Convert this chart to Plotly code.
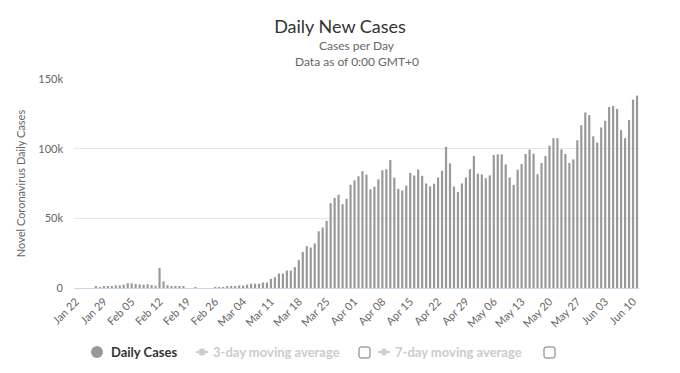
import plotly.graph_objects as go
import pandas as pd

# ---- data ----
start_date = "2020-01-22"
end_date = "2020-06-11"

jan_cases = [0, 0, 0, 0, 0, 1200, 500, 1200, 1200, 1200]
feb_cases = [1900, 1900, 2400, 3400, 3400, 2900, 2600, 2400, 2700, 2100, 1600, 14500,
             4800, 2000, 1300, 1300, 1300, 1300, 0, 0, 600, 0, 0, 0, 0, 700, 700, 700, 1300]
mar_cases = [1200, 1200, 1800, 1700, 2400, 3100, 3100, 3100, 3900, 3900, 6500, 7700,
             10400, 10400, 12500, 12500, 15000, 20000, 25800, 30000, 29000, 32000,
             40700, 43400, 48200, 60900, 64700, 66900, 60100, 64000, 74100]
apr_cases = [77300, 80200, 83800, 81400, 70800, 72700, 78000, 84500, 85200, 91800,
             79200, 71200, 70000, 73400, 82600, 80700, 85000, 80500, 75000, 73000,
             74800, 79300, 84100, 101400, 89400, 72800, 69000, 75000, 79300, 85300]
may_cases = [94700, 82000, 81500, 78800, 80800, 95400, 95900, 95900, 88700, 79300,
             74000, 84900, 89000, 96200, 99300, 96400, 81700, 89700, 94700, 102200,
             107500, 107500, 99500, 96200, 89700, 92300, 106000, 116900, 126000,
             124100, 108900]
jun_cases = [104400, 115200, 120000, 129900, 130600, 128500, 113300, 107500,
             120500, 135200, 138100]

y_tick_values = [0, 50000, 100000, 150000]
y_tick_labels = ["0", "50k", "100k", "150k"]

daily_cases = jan_cases + feb_cases + mar_cases + apr_cases + may_cases + jun_cases
dates = pd.date_range(start_date, end_date, freq="D")
tick_dates = dates[::7]
tick_labels = [d.strftime("%b %d") for d in tick_dates]

FONT = "Lato"

fig = go.Figure()
fig.add_trace(go.Bar(
    x=dates, y=daily_cases, name="Daily Cases",
    marker=dict(color="#999999", line=dict(width=0)),
    showlegend=False,
))

# plot area in pixels
L, R, T, B = 74, 41, 79, 85
W, H = 680 - L - R, 373 - T - B


def px(x):
    return (x - L) / W


def py(y):
    return (T + H - y) / H


shapes = []
annotations = []

# subtitle
annotations.append(dict(text="Cases per Day", x=0.5, xref="paper", y=py(46), yref="paper",
                        xanchor="center", yanchor="middle", showarrow=False,
                        font=dict(family=FONT, size=12, color="#666666")))
annotations.append(dict(text="Data as of 0:00 GMT+0", x=0.5, xref="paper", y=py(62), yref="paper",
                        xanchor="center", yanchor="middle", showarrow=False,
                        font=dict(family=FONT, size=12, color="#666666")))

# custom legend
ly = 352
LEG = 13
shapes.append(dict(type="circle", xref="paper", yref="paper",
                   x0=px(91), x1=px(103), y0=py(ly + 6), y1=py(ly - 6),
                   fillcolor="#999999", line=dict(width=0)))
annotations.append(dict(text="<b>Daily Cases</b>", x=px(109), xref="paper", y=py(ly), yref="paper",
                        xanchor="left", yanchor="middle", showarrow=False,
                        font=dict(family=FONT, size=LEG, color="#333333")))

# 3-day
shapes.append(dict(type="line", xref="paper", yref="paper",
                   x0=px(196), x1=px(208), y0=py(ly), y1=py(ly),
                   line=dict(color="#cccccc", width=2)))
shapes.append(dict(type="circle", xref="paper", yref="paper",
                   x0=px(198.5), x1=px(205.5), y0=py(ly + 3.5), y1=py(ly - 3.5),
                   fillcolor="#cccccc", line=dict(width=0)))
annotations.append(dict(text="<b>3-day moving average</b>", x=px(211), xref="paper", y=py(ly), yref="paper",
                        xanchor="left", yanchor="middle", showarrow=False,
                        font=dict(family=FONT, size=LEG, color="#cccccc")))

# 7-day
shapes.append(dict(type="line", xref="paper", yref="paper",
                   x0=px(378), x1=px(390), y0=py(ly), y1=py(ly),
                   line=dict(color="#cccccc", width=2)))
cx, cy, d = 384, ly, 4
shapes.append(dict(type="path", xref="paper", yref="paper",
                   path=f"M {px(cx)},{py(cy - d)} L {px(cx + d)},{py(cy)} L {px(cx)},{py(cy + d)} L {px(cx - d)},{py(cy)} Z",
                   fillcolor="#cccccc", line=dict(width=0)))
annotations.append(dict(text="<b>7-day moving average</b>", x=px(393), xref="paper", y=py(ly), yref="paper",
                        xanchor="left", yanchor="middle", showarrow=False,
                        font=dict(family=FONT, size=LEG, color="#cccccc")))


def checkbox(x0, y0, s=11, r=2):
    x1, y1 = x0 + s, y0 + s
    p = (f"M {px(x0 + r)},{py(y0)} L {px(x1 - r)},{py(y0)} Q {px(x1)},{py(y0)} {px(x1)},{py(y0 + r)} "
         f"L {px(x1)},{py(y1 - r)} Q {px(x1)},{py(y1)} {px(x1 - r)},{py(y1)} "
         f"L {px(x0 + r)},{py(y1)} Q {px(x0)},{py(y1)} {px(x0)},{py(y1 - r)} "
         f"L {px(x0)},{py(y0 + r)} Q {px(x0)},{py(y0)} {px(x0 + r)},{py(y0)} Z")
    return dict(type="path", xref="paper", yref="paper", path=p,
                fillcolor="white", line=dict(color="#767676", width=1))


shapes.append(checkbox(359, 347))
shapes.append(checkbox(544, 347))

fig.update_layout(
    width=680, height=373,
    margin=dict(l=L, r=R, t=T, b=B, autoexpand=False),
    paper_bgcolor="white", plot_bgcolor="white",
    font=dict(family=FONT, color="#666666", size=11),
    title=dict(text="Daily New Cases", x=0.5, xanchor="center", y=1 - 27 / 373, yanchor="middle",
               font=dict(family=FONT, size=18, color="#333333")),
    bargap=0.45,
    showlegend=False,
    shapes=shapes,
    annotations=annotations,
    xaxis=dict(
        type="date",
        range=[pd.Timestamp(start_date) - pd.Timedelta(hours=12),
               pd.Timestamp(end_date) + pd.Timedelta(hours=12)],
        tickvals=tick_dates, ticktext=tick_labels, tickangle=-45,
        tickfont=dict(family=FONT, size=11, color="#666666"),
        showgrid=False, showline=True, linecolor="#ccd6eb", linewidth=1,
        ticks="", zeroline=False, fixedrange=True, ticklabelstandoff=2,
    ),
    yaxis=dict(
        range=[0, 150000],
        tickvals=y_tick_values, ticktext=y_tick_labels,
        tickfont=dict(family=FONT, size=11, color="#666666"),
        showgrid=True, gridcolor="#e6e6e6", gridwidth=1,
        zeroline=False, showline=False, ticks="", ticklabelstandoff=10,
        fixedrange=True,
        title=dict(text="Novel Coronavirus Daily Cases", standoff=10,
                   font=dict(family=FONT, size=11, color="#666666")),
    ),
)

fig.write_html("out.html", config={"displayModeBar": False},
               post_script="document.body.style.margin='0';")
